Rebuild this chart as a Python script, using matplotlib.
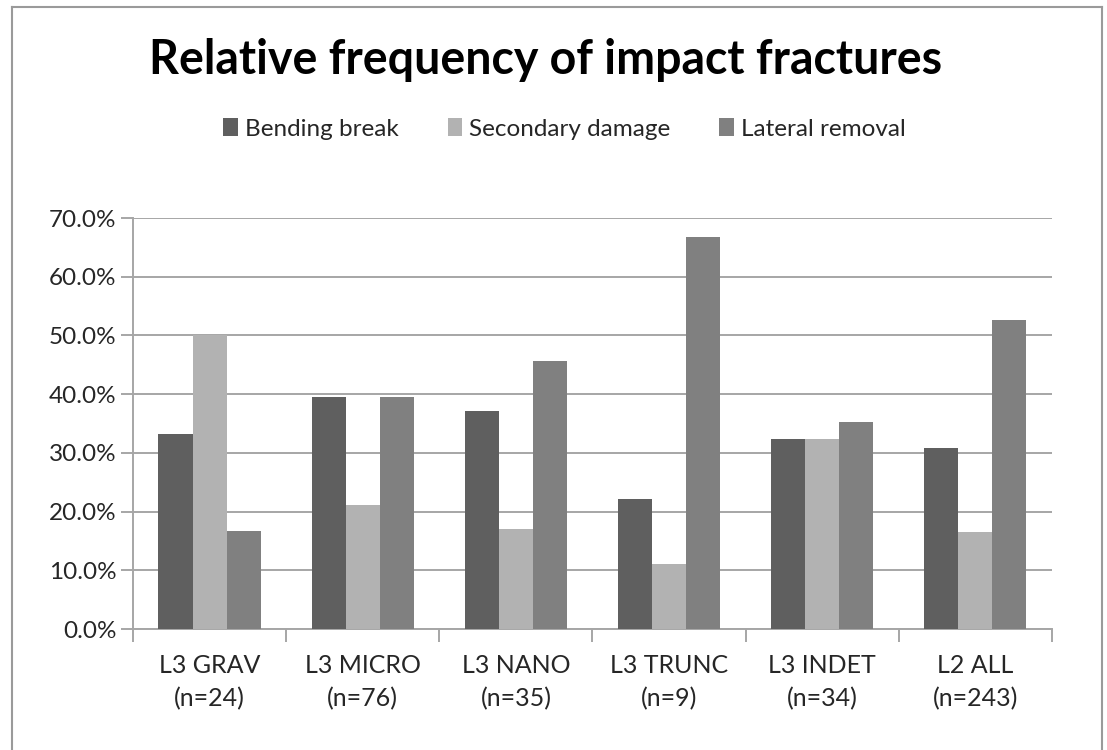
#!/usr/bin/env python3
"""Relative frequency of impact fractures - grouped bar chart."""
import matplotlib
matplotlib.use("Agg")
import matplotlib.pyplot as plt
import numpy as np
from matplotlib.lines import Line2D
from matplotlib.patches import Patch
from matplotlib.ticker import FuncFormatter, MultipleLocator

plt.rcParams["font.family"] = ["Lato", "DejaVu Sans"]

categories = ["L3 GRAV\n(n=24)", "L3 MICRO\n(n=76)", "L3 NANO\n(n=35)",
              "L3 TRUNC\n(n=9)", "L3 INDET\n(n=34)", "L2 ALL\n(n=243)"]
series_names = ["Bending break", "Secondary damage", "Lateral removal"]
bending = [0.333, 0.395, 0.371, 0.222, 0.324, 0.309]
secondary = [0.500, 0.211, 0.171, 0.111, 0.324, 0.165]
lateral = [0.167, 0.395, 0.457, 0.667, 0.353, 0.527]
colors = ["#5f5f5f", "#b2b2b2", "#808080"]

grid_col = "#a6a6a6"
text_col = "#262626"

fig = plt.figure(figsize=(11.07, 7.5), dpi=100)
ax = fig.add_axes([0.1201, 0.1613, 0.9503 - 0.1201, 0.7093 - 0.1613])

x = np.arange(len(categories))
w = 1.0 / 4.5  # gap width 150%
for i, (vals, col) in enumerate(zip([bending, secondary, lateral], colors)):
    ax.bar(x + (i - 1) * w, vals, width=w, color=col, zorder=3)

ax.set_xlim(-0.5, len(categories) - 0.5)
ax.set_ylim(0, 0.7)
ax.yaxis.set_major_locator(MultipleLocator(0.1))
ax.yaxis.set_major_formatter(FuncFormatter(lambda v, p: f"{v * 100:.1f}%"))
ax.grid(axis="y", color=grid_col, linewidth=1.4, zorder=0)

for s in ["top", "right"]:
    ax.spines[s].set_visible(False)
for s in ["left", "bottom"]:
    ax.spines[s].set_color(grid_col)
    ax.spines[s].set_linewidth(1.4)

# category labels between boundary ticks
ax.set_xticks(np.arange(-0.5, len(categories)), minor=False)
ax.set_xticklabels([])
ax.set_xticks(x, minor=True)
ax.set_xticklabels(categories, minor=True, fontsize=18, color=text_col,
                   linespacing=1.5)
ax.tick_params(axis="x", which="major", length=9, width=1.4, color=grid_col)
ax.tick_params(axis="x", which="minor", length=0, pad=18)
ax.tick_params(axis="y", length=9, width=1.4, color=grid_col,
               labelsize=17.5, labelcolor=text_col, pad=3)

fig.suptitle("Relative frequency of impact fractures", x=0.493, y=1 - 60 / 750,
             va="center", fontsize=33.5, fontweight="bold", color="black")

handles = [Patch(facecolor=c, edgecolor="none") for c in colors]
fig.legend(handles, series_names, loc="center", ncol=3,
           bbox_to_anchor=(0.51, 1 - 129 / 750), frameon=False,
           fontsize=17.5, handlelength=0.6, handleheight=0.75,
           handletextpad=0.3, columnspacing=2.0, labelcolor=text_col)

# outer frame (left, top, right)
frame_col = "#9a9a9a"
fig.add_artist(Line2D([12 / 1107, 12 / 1107], [0, 1 - 7 / 750],
                      color=frame_col, linewidth=1.5))
fig.add_artist(Line2D([12 / 1107, 1102 / 1107], [1 - 7 / 750, 1 - 7 / 750],
                      color=frame_col, linewidth=1.5))
fig.add_artist(Line2D([1102 / 1107, 1102 / 1107], [0, 1 - 7 / 750],
                      color=frame_col, linewidth=1.5))

fig.savefig("out.png", dpi=100)
